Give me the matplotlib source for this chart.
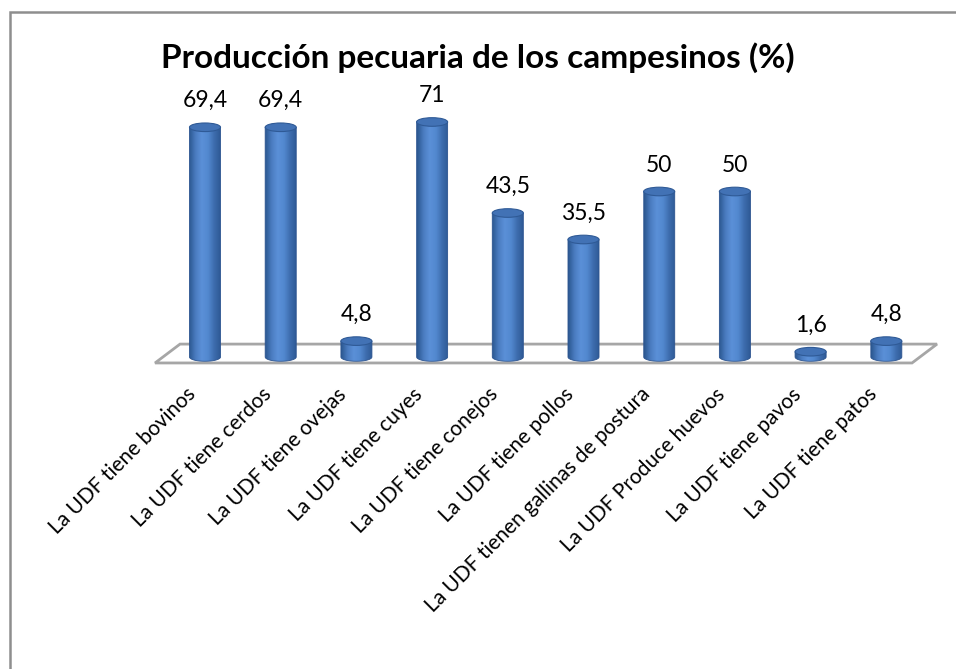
import matplotlib
matplotlib.use("Agg")
import matplotlib.pyplot as plt
import numpy as np
from matplotlib.patches import Polygon, Ellipse, Rectangle
from matplotlib.colors import LinearSegmentedColormap

# Datos
categorias = [
    "La UDF tiene bovinos",
    "La UDF tiene cerdos",
    "La UDF tiene ovejas",
    "La UDF tiene cuyes",
    "La UDF tiene conejos",
    "La UDF tiene pollos",
    "La UDF tienen gallinas de postura",
    "La UDF Produce huevos",
    "La UDF tiene pavos",
    "La UDF tiene patos",
]
valores = [69.4, 69.4, 4.8, 71, 43.5, 35.5, 50, 50, 1.6, 4.8]
etiquetas = ["69,4", "69,4", "4,8", "71", "43,5", "35,5", "50", "50", "1,6", "4,8"]
titulo = "Producción pecuaria de los campesinos (%)"

W, H = 956, 669
fig = plt.figure(figsize=(W / 100, H / 100), dpi=100)
ax = fig.add_axes([0, 0, 1, 1])
ax.set_axis_off()

# mapeo pixel -> datos
x0_px, dx_px = 205, 75.7     # centro de la primera barra, separacion
y0_px, dy_px = 357, 3.31     # base de las barras, px por unidad

plt.rcParams['font.family'] = ['Lato', 'DejaVu Sans']

# marco
fig.patches.append(Rectangle((10 / W, -0.1), 1.2, (H - 12) / H + 0.1,
                             transform=fig.transFigure, fill=False,
                             edgecolor='#8e8e8e', lw=1.8))

# piso
n = len(valores)
piso = [(-0.66, -1.8), (-0.33, 3.9), (n - 1 + 0.67, 3.9), (n - 1 + 0.34, -1.8)]
ax.add_patch(Polygon(piso, closed=True, facecolor='white',
                     edgecolor='#a6a6a6', lw=2, zorder=1))

cmap = LinearSegmentedColormap.from_list(
    "cil", ["#2b5790", "#4a7cc0", "#5b90d8", "#5288cf", "#3d6cad", "#2d5893"])
grad = np.linspace(0, 1, 64).reshape(1, -1)

w = 0.41
ry = 1.3
t_bot = np.linspace(np.pi, 2 * np.pi, 40)

for i, v in enumerate(valores):
    xl, xr = i - w / 2, i + w / 2
    pts = [(i + w / 2 * np.cos(t), ry * np.sin(t)) for t in t_bot]
    pts += [(xr, v), (xl, v)]
    shape = Polygon(pts, closed=True, facecolor='none', edgecolor='#2c5490',
                    lw=0.6, zorder=4)
    ax.add_patch(shape)
    im = ax.imshow(grad, cmap=cmap, aspect='auto',
                   extent=[xl, xr, -ry, v], zorder=3, interpolation='bicubic')
    im.set_clip_path(shape)
    ax.add_patch(Ellipse((i, v), w, 2 * ry, facecolor='#4272b5',
                         edgecolor='#2f5a96', lw=0.8, zorder=5))
    ax.text(i, v + 8, etiquetas[i], ha='center', va='center',
            fontsize=16.5, color='black', zorder=6)
    ax.text(i - 0.26, -8.2, categorias[i], rotation=45, rotation_mode='anchor',
            ha='right', va='top', fontsize=15, color='black')

ax.set_xlim(-x0_px / dx_px, (W - x0_px) / dx_px)
ax.set_ylim((y0_px - H) / dy_px, y0_px / dy_px)

fig.text(478 / W, 1 - 58 / H, titulo, ha='center', va='center',
         fontsize=24, fontweight='bold', color='black')

fig.savefig("out.png", dpi=100)
